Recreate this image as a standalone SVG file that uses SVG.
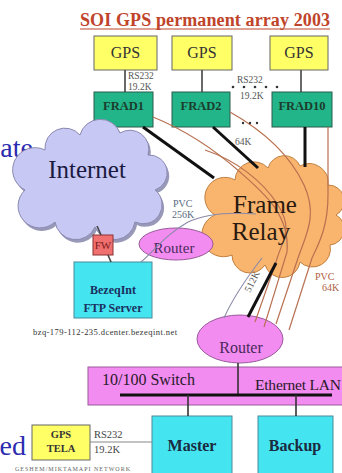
<svg xmlns="http://www.w3.org/2000/svg" width="342" height="473" viewBox="0 0 342 473">
<style>
text{font-family:"Liberation Serif","Times New Roman",serif}
.gps{fill:#ffff66;stroke:#666;stroke-width:1}
.frad{fill:#22b58a;stroke:#2a5a4a;stroke-width:1}
.cyan{fill:#44e4f0;stroke:#4a8a9a;stroke-width:1}
.pink{fill:#f28cf0;stroke:#9a5a9a;stroke-width:1}
.fw{fill:#f07070;stroke:#8a3030;stroke-width:1}
.lbl{font-size:9.5px;fill:#555}
.gpst{font-size:16px;fill:#333;text-anchor:middle}
.fradt{font-size:12.5px;fill:#1b3d2d;text-anchor:middle;font-weight:bold}
.fwt{font-size:11px;fill:#7a1a1a;text-anchor:middle}
.blk{stroke:#111;stroke-width:3;fill:none}
.thin{stroke:#444;stroke-width:1.6;fill:none}
.brown{stroke:#b87050;stroke-width:1.2;fill:none}
.gray{stroke:#8a8aa8;stroke-width:1.1;fill:none}
.big{font-size:28px;fill:#2b2bb0}
</style>

<text class="big" x="33" y="157" text-anchor="end">ate</text>
<text class="big" x="26" y="455" text-anchor="end">ed</text>

<g id="title">
<text x="80" y="26" font-size="18" font-weight="bold" fill="#c0442a" textLength="250">SOI GPS permanent array 2003</text>
<line x1="80" y1="29" x2="330" y2="29" stroke="#c0442a" stroke-width="1.2"/>
</g>

<g id="gps1"><rect class="gps" x="94" y="36" width="63" height="34"/><text class="gpst" x="125.5" y="58">GPS</text></g>
<g id="gps2"><rect class="gps" x="172" y="36" width="60" height="34"/><text class="gpst" x="202" y="58">GPS</text></g>
<g id="gps3"><rect class="gps" x="270" y="36" width="58" height="34"/><text class="gpst" x="299" y="58">GPS</text></g>

<g id="frad1"><rect class="frad" x="94" y="92" width="59" height="35"/><text class="fradt" x="123.5" y="110">FRAD1</text></g>
<g id="frad2"><rect class="frad" x="172" y="92" width="58" height="35"/><text class="fradt" x="201" y="110">FRAD2</text></g>
<g id="frad10"><rect class="frad" x="272" y="92" width="60" height="35"/><text class="fradt" x="302" y="110">FRAD10</text></g>

<g id="internet">
<path transform="translate(2,3)" fill="#9898b8" d="M25,190 A20,20 0 0 1 45,150 A20,20 0 0 1 80,135 A21,21 0 0 1 120,133 A19,19 0 0 1 148,155 A18,18 0 0 1 155,190 A19,19 0 0 1 135,222 A21,21 0 0 1 95,227 A21,21 0 0 1 55,222 A20,20 0 0 1 25,190 Z"/>
<path fill="#c8c8f4" stroke="#8a8ab0" stroke-width="1" d="M25,190 A20,20 0 0 1 45,150 A20,20 0 0 1 80,135 A21,21 0 0 1 120,133 A19,19 0 0 1 148,155 A18,18 0 0 1 155,190 A19,19 0 0 1 135,222 A21,21 0 0 1 95,227 A21,21 0 0 1 55,222 A20,20 0 0 1 25,190 Z"/>
<text x="87" y="178" font-size="25" fill="#1a1a40" text-anchor="middle">Internet</text>
</g>

<g id="framerelay">
<path fill="#f9b46e" stroke="#c08040" stroke-width="1" d="M215,215 A19,19 0 0 1 235,180 A19,19 0 0 1 268,168 A17,17 0 0 1 300,166 A19,19 0 0 1 328,185 A16,16 0 0 1 336,215 A16,16 0 0 1 330,245 A18,18 0 0 1 300,262 A18,18 0 0 1 265,265 A18,18 0 0 1 232,255 A20,20 0 0 1 215,215 Z"/>
</g>

<g id="fw1"><rect class="fw" x="93" y="235" width="20" height="20"/><text class="fwt" x="103" y="249">FW</text></g>
<g id="router1"><ellipse class="pink" cx="176" cy="244" rx="37" ry="16"/><text x="174" y="253" font-size="15" fill="#4a2a5a" text-anchor="middle">Router</text></g>
<g id="ftp">
<rect class="cyan" x="74" y="262" width="78" height="56"/>
<text x="113" y="294" font-size="12" font-weight="bold" fill="#1a3060" text-anchor="middle">BezeqInt</text>
<text x="113" y="312" font-size="12" font-weight="bold" fill="#1a3060" text-anchor="middle">FTP Server</text>
</g>
<text x="33" y="335" font-size="8.5" fill="#333" textLength="144">bzq-179-112-235.dcenter.bezeqint.net</text>

<g id="router2">
<ellipse class="pink" cx="240" cy="339" rx="43" ry="24"/>
<text x="241" y="353" font-size="16" fill="#4a2a5a" text-anchor="middle">Router</text>
</g>

<g id="switch">
<rect class="pink" x="88" y="367" width="260" height="38"/>
<text x="102" y="385" font-size="16" fill="#2a1a2a">10/100 Switch</text>
<text x="255" y="390" font-size="15.5" fill="#2a1a2a" textLength="86">Ethernet LAN</text>
</g>

<g id="master"><rect class="cyan" x="152" y="416" width="80" height="70"/><text x="192" y="451" font-size="16" font-weight="bold" fill="#1a2a40" text-anchor="middle">Master</text></g>
<g id="backup"><rect class="cyan" x="258" y="416" width="75" height="70"/><text x="295" y="451" font-size="16" font-weight="bold" fill="#1a2a40" text-anchor="middle">Backup</text></g>

<g id="gpstela">
<rect class="gps" x="32" y="425" width="58" height="35"/>
<text x="61" y="438" font-size="10.5" font-weight="bold" fill="#333" text-anchor="middle">GPS</text>
<text x="61" y="452" font-size="10.5" font-weight="bold" fill="#333" text-anchor="middle">TELA</text>
</g>
<text x="15" y="471" font-size="6" fill="#666" textLength="115">GESHEM/MIKTAMAPI NETWORK</text>

<g id="connectors">
<line class="thin" x1="125" y1="70" x2="125" y2="92"/>
<line class="thin" x1="202" y1="70" x2="202" y2="92"/>
<line class="thin" x1="301" y1="70" x2="301" y2="92"/>
<line class="blk" x1="143" y1="127" x2="214" y2="178"/>
<line class="blk" x1="213" y1="127" x2="258" y2="168"/>
<line class="blk" x1="305" y1="127" x2="305" y2="167"/>
<path class="brown" d="M153,117 C185,130 215,150 240,172 S290,215 287,252 L264,327"/>
<path class="brown" d="M230,112 C262,130 290,155 304,185 S306,235 298,258 L276,324"/>
<path class="brown" d="M328,127 L328,195 C328,228 318,245 312,258 L289,330"/>
<path class="brown" d="M205,150 C235,160 262,180 278,205 S282,240 276,262 L255,322"/>
<path class="gray" d="M141,262 C155,250 165,235 188,222 C205,214 230,212 256,214"/>
<path class="gray" d="M224,318 C232,300 245,280 262,258"/>
<line class="blk" x1="248" y1="317" x2="276" y2="263"/>
<line class="thin" x1="97" y1="226" x2="101" y2="235"/>
<line class="thin" x1="108" y1="255" x2="111" y2="262"/>
<line x1="238" y1="363" x2="238" y2="395" stroke="#333" stroke-width="1.6"/>
<line x1="120" y1="395" x2="332" y2="395" stroke="#111" stroke-width="3"/>
<line x1="188" y1="395" x2="188" y2="416" stroke="#333" stroke-width="1.6"/>
<line x1="296" y1="395" x2="296" y2="416" stroke="#333" stroke-width="1.6"/>
<line x1="90" y1="442" x2="152" y2="442" stroke="#888" stroke-width="1.2"/>
</g>

<g id="labels">
<text x="265" y="213" font-size="25" fill="#2a1a10" text-anchor="middle">Frame</text>
<text x="261" y="240" font-size="25" fill="#2a1a10" text-anchor="middle">Relay</text>
<text class="lbl" x="128" y="79">RS232</text>
<text class="lbl" x="128" y="90">19.2K</text>
<text class="lbl" x="237" y="83">RS232</text>
<text class="lbl" x="240" y="99">19.2K</text>
<g fill="#333"><circle cx="233" cy="87" r="1.3"/><circle cx="244" cy="87" r="1.3"/><circle cx="255" cy="87" r="1.3"/><circle cx="266" cy="87" r="1.3"/><circle cx="277" cy="87" r="1.3"/>
<circle cx="243" cy="123" r="1.2"/><circle cx="250" cy="123" r="1.2"/><circle cx="257" cy="123" r="1.2"/></g>
<text class="lbl" x="235" y="145">64K</text>
<text x="173" y="207" font-size="10" fill="#5a6a80">PVC</text>
<text x="172" y="218" font-size="10" fill="#5a6a80">256K</text>
<text x="315" y="280" font-size="10" fill="#b06040">PVC</text>
<text x="322" y="291" font-size="10" fill="#b06040">64K</text>
<text x="255" y="283" font-size="10" fill="#555" text-anchor="middle" transform="rotate(-63 255 283)">512K</text>
<text x="94" y="438" font-size="10.5" fill="#444">RS232</text>
<text x="94" y="453" font-size="10.5" fill="#444">19.2K</text>
</g>
</svg>
